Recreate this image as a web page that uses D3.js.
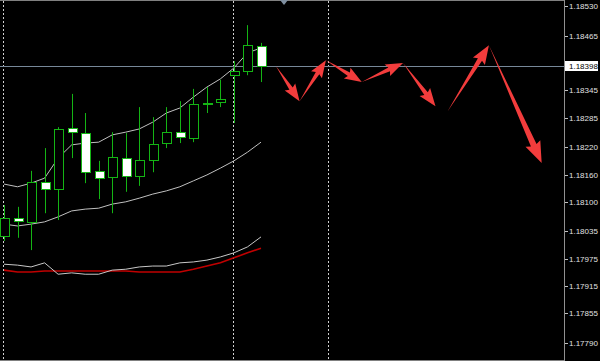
<!DOCTYPE html>
<html lang="en">
<head>
  <meta charset="UTF-8">
  <title>EURUSD candles</title>
  <script src="https://d3js.org/d3.v7.min.js"></script>
  <style>
    body { margin: 0; background: #000; }
    svg { display: block; }
  </style>
</head>
<body>
  <script>
    const width = 600;
    const height = 361;
    const plotRight = 564;

    // candles, oldest first
    const opens  = [1.18025, 1.18064, 1.18056, 1.18144, 1.18128, 1.18262, 1.18251, 1.18168, 1.18154, 1.18196,
                    1.18157, 1.18192, 1.18229, 1.18253, 1.18240, 1.18315, 1.18319, 1.18378, 1.18387, 1.18442];
    const highs  = [1.18093, 1.18089, 1.18168, 1.18218, 1.18264, 1.18337, 1.18295, 1.18190, 1.18253, 1.18251,
                    1.18308, 1.18286, 1.18308, 1.18321, 1.18348, 1.18352, 1.18368, 1.18409, 1.18488, 1.18449];
    const lows   = [1.18014, 1.18021, 1.17994, 1.18075, 1.18060, 1.18196, 1.18141, 1.18106, 1.18075, 1.18122,
                    1.18135, 1.18165, 1.18218, 1.18229, 1.18231, 1.18295, 1.18308, 1.18273, 1.18378, 1.18363];
    const closes = [1.18064, 1.18058, 1.18144, 1.18128, 1.18260, 1.18253, 1.18165, 1.18152, 1.18198, 1.18157,
                    1.18192, 1.18227, 1.18253, 1.18242, 1.18315, 1.18316, 1.18326, 1.18387, 1.18444, 1.18398];

    // indicator lines
    const upperBand = [1.18139, 1.18133, 1.18141, 1.18152, 1.18196, 1.18225, 1.18229, 1.18231, 1.18247, 1.18253,
                       1.18260, 1.18275, 1.18295, 1.18306, 1.18330, 1.18352, 1.18370, 1.18394, 1.18427, 1.18438];
    const middleBand = [1.18051, 1.18047, 1.18051, 1.18056, 1.18067, 1.18080, 1.18084, 1.18086, 1.18095, 1.18100,
                        1.18108, 1.18117, 1.18124, 1.18133, 1.18146, 1.18159, 1.18174, 1.18190, 1.18209, 1.18231];
    const lowerGray = [1.17963, 1.17961, 1.17957, 1.17966, 1.17941, 1.17944, 1.17941, 1.17941, 1.17950, 1.17952,
                       1.17957, 1.17959, 1.17959, 1.17966, 1.17968, 1.17972, 1.17979, 1.17988, 1.18001, 1.18023];
    const lowerRed = [1.17950, 1.17946, 1.17946, 1.17948, 1.17948, 1.17948, 1.17948, 1.17948, 1.17948, 1.17948,
                      1.17946, 1.17946, 1.17946, 1.17946, 1.17952, 1.17959, 1.17966, 1.17977, 1.17988, 1.17998];

    const separators = [0, 17, 24];
    const bidPrice = 1.18398;
    const tickLabels = ["1.18530", "1.18465", "1.18405", "1.18345", "1.18285", "1.18220", "1.18160",
                        "1.18100", "1.18035", "1.17975", "1.17915", "1.17855", "1.17790"];

    // drawn arrows (bar index, price)
    const arrowX0 = [20.1, 21.85, 23.8, 26.45, 29.5, 32.8, 35.85];
    const arrowP0 = [1.18398, 1.18321, 1.18411, 1.18363, 1.18405, 1.18299, 1.18444];
    const arrowX1 = [21.85, 23.8, 26.45, 29.5, 31.9, 35.85, 39.75];
    const arrowP1 = [1.18321, 1.18411, 1.18363, 1.18405, 1.18310, 1.18444, 1.18185];

    const x = d3.scaleLinear().domain([0, 19]).range([4, 261]);
    const y = d3.scaleLinear().domain([1.17790, 1.18530]).range([343, 6]);

    const green = "#14b414";

    const svg = d3.select("body").append("svg")
        .attr("width", width)
        .attr("height", height)
        .style("font", "8px 'Liberation Sans', Arial, sans-serif");

    svg.append("rect").attr("width", width).attr("height", height).attr("fill", "#000");

    // frame lines
    svg.append("line").attr("x1", 0).attr("x2", width).attr("y1", 0.5).attr("y2", 0.5).attr("stroke", "#808080");
    svg.append("line").attr("x1", 0).attr("x2", width).attr("y1", 360.5).attr("y2", 360.5).attr("stroke", "#808080");

    // period separators
    svg.append("g").selectAll("line")
      .data(separators)
      .join("line")
        .attr("x1", d => Math.round(x(d)) - 0.5)
        .attr("x2", d => Math.round(x(d)) - 0.5)
        .attr("y1", 1)
        .attr("y2", 360)
        .attr("stroke", "#d0d0d0")
        .attr("stroke-dasharray", "2,2");

    // bid line
    svg.append("line")
        .attr("x1", 0).attr("x2", plotRight)
        .attr("y1", Math.round(y(bidPrice)) + 0.5).attr("y2", Math.round(y(bidPrice)) + 0.5)
        .attr("stroke", "#778899");

    // indicator lines
    const line = d3.line().x((d, i) => x(i)).y(d => y(d));
    const lines = [
      { values: lowerRed, color: "#c00000", w: 1.6 },
      { values: lowerGray, color: "#c8c8c8", w: 1 },
      { values: middleBand, color: "#c0c0c0", w: 1 },
      { values: upperBand, color: "#c0c0c0", w: 1 }
    ];
    svg.append("g").selectAll("path")
      .data(lines)
      .join("path")
        .attr("d", d => line(d.values))
        .attr("fill", "none")
        .attr("stroke", d => d.color)
        .attr("stroke-width", d => d.w);

    // candles
    const candles = opens.map((o, i) => ({ i, o, h: highs[i], l: lows[i], c: closes[i] }));
    const cg = svg.append("g").selectAll("g")
      .data(candles)
      .join("g");

    cg.append("line")
        .attr("x1", d => Math.round(x(d.i)) + 0.5)
        .attr("x2", d => Math.round(x(d.i)) + 0.5)
        .attr("y1", d => y(d.h))
        .attr("y2", d => y(d.l))
        .attr("stroke", green);

    cg.append("rect")
        .attr("x", d => Math.round(x(d.i)) - 4 + 0.5)
        .attr("width", 9)
        .attr("y", d => Math.round(y(Math.max(d.o, d.c))) + 0.5)
        .attr("height", d => Math.max(1, Math.round(Math.abs(y(d.o) - y(d.c)))))
        .attr("fill", d => d.c < d.o ? "#ffffff" : "#000000")
        .attr("stroke", green);

    // arrows
    const arrows = arrowX0.map((v, i) => ({
      x0: x(v), y0: y(arrowP0[i]), x1: x(arrowX1[i]), y1: y(arrowP1[i])
    }));
    function arrowPath(a) {
      const dx = a.x1 - a.x0, dy = a.y1 - a.y0;
      const L = Math.hypot(dx, dy);
      const ux = dx / L, uy = dy / L, vx = -uy, vy = ux;
      const h = 13 + 0.05 * L, w1 = 1.5 + 0.012 * L, w2 = 5.5 + 0.02 * L;
      const pt = (u, v) => [a.x0 + ux * u + vx * v, a.y0 + uy * u + vy * v];
      const pts = [pt(0, 0), pt(L - h, w1), pt(L - h - 2, w2), pt(L, 0), pt(L - h - 2, -w2), pt(L - h, -w1)];
      return "M" + pts.map(p => p.join(",")).join("L") + "Z";
    }
    svg.append("g").selectAll("path")
      .data(arrows)
      .join("path")
        .attr("d", arrowPath)
        .attr("fill", "#f23c3c");

    // chart shift marker
    svg.append("path")
        .attr("d", "M280,0L288,0L284,5Z")
        .attr("fill", "#7f8fa0");

    // price axis
    svg.append("rect").attr("x", plotRight + 1).attr("y", 0).attr("width", width - plotRight).attr("height", height).attr("fill", "#000");
    svg.append("line")
        .attr("x1", plotRight + 0.5).attr("x2", plotRight + 0.5)
        .attr("y1", 0).attr("y2", height)
        .attr("stroke", "#909090");

    const ticks = svg.append("g").selectAll("g")
      .data(tickLabels)
      .join("g")
        .attr("transform", d => `translate(0,${Math.round(y(+d)) + 0.5})`);
    ticks.append("line")
        .attr("x1", plotRight + 1).attr("x2", plotRight + 4)
        .attr("stroke", "#c0c0c0");
    ticks.append("text")
        .attr("x", 569)
        .attr("dy", "0.35em")
        .attr("fill", "#e0e0e0")
        .text(d => d);

    // bid label
    const by = Math.round(y(bidPrice));
    svg.append("rect")
        .attr("x", 565).attr("y", by - 5)
        .attr("width", 33).attr("height", 10)
        .attr("fill", "#ffffff");
    svg.append("text")
        .attr("x", 569).attr("y", by)
        .attr("dy", "0.35em")
        .attr("fill", "#000")
        .text(bidPrice.toFixed(5));
  </script>
</body>
</html>
